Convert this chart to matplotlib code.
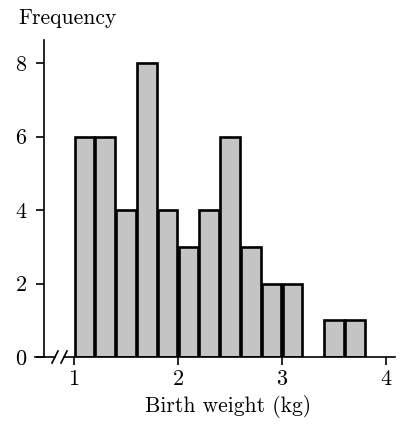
import matplotlib
matplotlib.use("Agg")
import matplotlib.pyplot as plt
from matplotlib.lines import Line2D

# Data
bin_left = [1.0, 1.2, 1.4, 1.6, 1.8, 2.0, 2.2, 2.4, 2.6, 2.8, 3.0, 3.2, 3.4, 3.6]
frequency = [6, 6, 4, 8, 4, 3, 4, 6, 3, 2, 2, 0, 1, 1]
bin_width = 0.2
x_ticks = [1, 2, 3, 4]
y_ticks = [0, 2, 4, 6, 8]

plt.rcParams['font.family'] = ['cmr10', 'DejaVu Serif']
plt.rcParams['axes.formatter.use_mathtext'] = True

fig = plt.figure(figsize=(4.0, 4.24), dpi=100)
W, H = 400, 424
ax = fig.add_axes([44 / W, 1 - 357 / H, (395 - 44) / W, (357 - 40) / H])

xmin = 1 - 30 / 104
xmax = xmin + (395 - 44) / 104
ax.set_xlim(xmin, xmax)
ax.set_ylim(0, 8 + (63 - 40) / 36.75)

for x, f in zip(bin_left, frequency):
    if f > 0:
        ax.bar(x + 0.006, f, width=bin_width - 0.012, align='edge',
               color='#c4c4c4', edgecolor='black', linewidth=1.9, zorder=2)

ax.spines['top'].set_visible(False)
ax.spines['right'].set_visible(False)
ax.spines['bottom'].set_visible(False)
ax.spines['left'].set_linewidth(1.2)

# bottom axis line with break marks
px = lambda p: xmin + (p - 44) / 104
tr = ax.get_xaxis_transform()
ax.add_line(Line2D([px(35), px(55)], [0, 0], color='black', lw=1.2,
                   transform=tr, clip_on=False))
ax.add_line(Line2D([px(64), px(395)], [0, 0], color='black', lw=1.2,
                   transform=tr, clip_on=False))
dy = 6 / 317
for cx in (55, 64):
    ax.add_line(Line2D([px(cx - 3), px(cx + 3)], [-dy, dy], color='black', lw=1.2,
                       transform=tr, clip_on=False))

ax.set_xticks(x_ticks)
ax.set_yticks(y_ticks)
ax.tick_params(axis='both', direction='out', length=6, width=1.2, labelsize=16)
ax.tick_params(axis='x', pad=3)
ax.tick_params(axis='y', pad=6)

fig.text(228 / W, 1 - 407 / H, 'Birth weight (kg)', fontsize=15.5,
         ha='center', va='center')
fig.text(18 / W, 1 - 18 / H, 'Frequency', fontsize=15.5, ha='left', va='center')

fig.savefig('out.png', dpi=100)
